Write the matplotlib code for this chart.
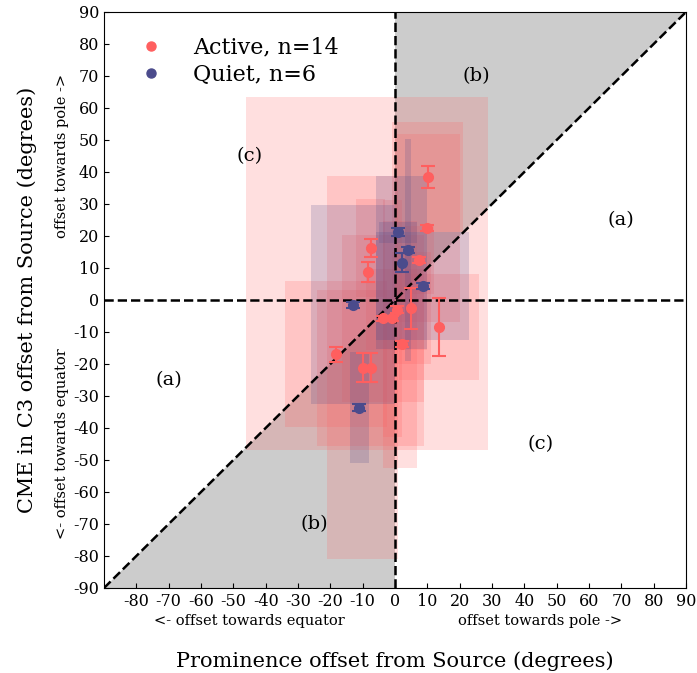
import matplotlib
matplotlib.use("Agg")
import matplotlib.pyplot as plt
from matplotlib.patches import Rectangle, Polygon
from matplotlib.lines import Line2D

plt.rcParams['font.family'] = 'DejaVu Serif'
plt.rcParams['axes.unicode_minus'] = False

# ---- data ----
# active regions: prominence offset (x), CME offset (y), y error
act_x = [10.2, 10.0, -7.4, -8.3, 7.4, 0.5, 5.1, 13.6, -3.7, -1.0, 2.1, -18.3, -9.9, -7.5]
act_y = [38.4, 22.5, 16.2, 8.7, 12.5, -3.0, -2.6, -8.5, -5.7, -5.7, -13.8, -17.0, -21.2, -21.2]
act_err = [3.5, 1.0, 2.8, 3.1, 1.0, 1.0, 6.4, 9.0, 0.8, 0.8, 1.0, 2.3, 4.5, 4.5]
# range boxes (x low, x high, y low, y high)
act_box_x0 = [-1, 0, -12, -46, 3, -9, -1, 1.2, -16.4, -3.7, -3.7, -34, -21, -24]
act_box_x1 = [21, 20, -3, 28.7, 12, 10, 11, 26, 9, 2.1, 6.9, -2.6, 1, 9]
act_box_y0 = [21.3, -7, 1, -46.9, 2, -15.6, -20, -25, -31.8, -42.7, -52.4, -39.8, -81, -45.5]
act_box_y1 = [55.5, 52, 31.5, 63.4, 23, 9.6, 15, 8, 20.4, 31.3, 24.8, 5.8, 38.6, 3.1]

# quiet regions
qui_x = [0.9, 4.1, 2.1, 8.6, -12.9, -11.0]
qui_y = [21.3, 15.6, 11.7, 4.4, -1.6, -33.6]
qui_err = [1.2, 1.0, 2.9, 1.0, 1.0, 1.0]
qui_box_x0 = [-4.9, 3, -6, -5.8, -26, -13.9]
qui_box_x1 = [6.8, 5.1, 10, 23, 0, -8]
qui_box_y0 = [17.8, -19, -15.3, -12.5, -32.6, -51]
qui_box_y1 = [24.5, 50.3, 38.75, 21.3, 29.7, -16.2]

act_col = '#ff5f5f'
qui_col = '#4b4b8c'

fig = plt.figure(figsize=(6.97, 6.73), dpi=100)
ax = fig.add_axes([104/697, 1-588/673, 582/697, 576/673])

# shaded quadrant halves
ax.add_patch(Polygon([(0, 0), (0, 90), (90, 90)], closed=True, color='#cccccc', lw=0, zorder=0))
ax.add_patch(Polygon([(0, 0), (0, -90), (-90, -90)], closed=True, color='#cccccc', lw=0, zorder=0))

# boxes
for i in range(len(act_x)):
    ax.add_patch(Rectangle((act_box_x0[i], act_box_y0[i]), act_box_x1[i]-act_box_x0[i],
                           act_box_y1[i]-act_box_y0[i], color=act_col, alpha=0.2, lw=0, zorder=1))
for i in range(len(qui_x)):
    ax.add_patch(Rectangle((qui_box_x0[i], qui_box_y0[i]), qui_box_x1[i]-qui_box_x0[i],
                           qui_box_y1[i]-qui_box_y0[i], color=qui_col, alpha=0.2, lw=0, zorder=1))

# dashed guides
ax.plot([-90, 90], [-90, 90], 'k--', lw=1.8, zorder=2)
ax.axhline(0, color='k', ls='--', lw=1.8, zorder=2)
ax.axvline(0, color='k', ls='--', lw=1.8, zorder=2)

ax.errorbar(act_x, act_y, yerr=act_err, fmt='o', color=act_col, ms=7, capsize=5,
            elinewidth=1.5, capthick=1.5, zorder=3)
ax.errorbar(qui_x, qui_y, yerr=qui_err, fmt='o', color=qui_col, ms=7, capsize=5,
            elinewidth=1.5, capthick=1.5, zorder=3)

# region labels
for (tx, ty, s) in [(25, 70, '(b)'), (70, 25, '(a)'), (-45, 45, '(c)'),
                    (-70, -25, '(a)'), (45, -45, '(c)'), (-25, -70, '(b)')]:
    ax.text(tx, ty, s, fontsize=14, ha='center', va='center')

ax.set_xlim(-90, 90)
ax.set_ylim(-90, 90)
ax.set_xticks(range(-80, 91, 10))
ax.set_yticks(range(-90, 91, 10))
ax.tick_params(direction='in', labelsize=11.5)

ax.text(-103, 45, 'offset towards pole ->', rotation=90, fontsize=10.5, ha='center', va='center')
ax.text(-103, -45, '<- offset towards equator', rotation=90, fontsize=10.5, ha='center', va='center')
ax.text(-45, -100.3, '<- offset towards equator', fontsize=10.5, ha='center', va='center')
ax.text(45, -100.3, 'offset towards pole ->', fontsize=10.5, ha='center', va='center')

ax.set_xlabel('Prominence offset from Source (degrees)', fontsize=15, labelpad=30)
ax.set_ylabel('CME in C3 offset from Source (degrees)', fontsize=15, labelpad=26)

handles = [Line2D([], [], ls='none', marker='o', ms=6.5, color=act_col),
           Line2D([], [], ls='none', marker='o', ms=6.5, color=qui_col)]
ax.legend(handles, ['Active, n=14', 'Quiet, n=6'], loc='upper left', frameon=False,
          fontsize=16, handletextpad=0.9, borderaxespad=0.7, labelspacing=0.25)

fig.savefig('out.png', dpi=100)
